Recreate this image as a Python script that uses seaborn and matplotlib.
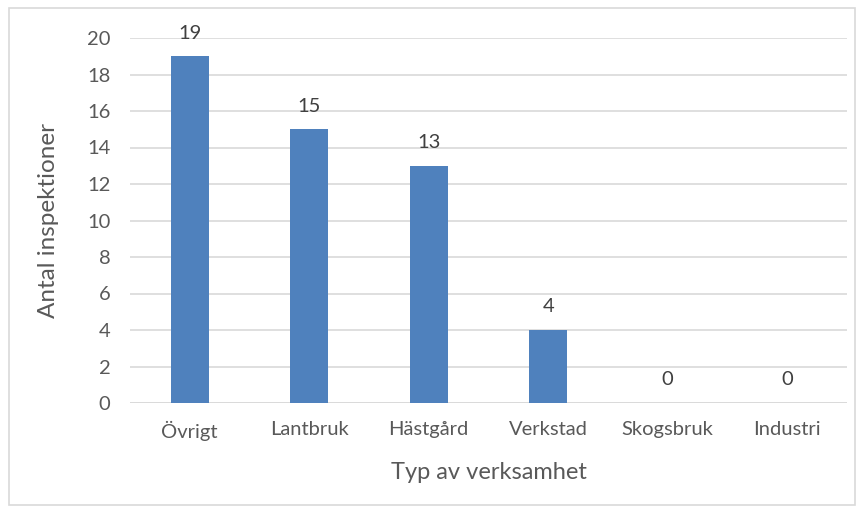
import matplotlib
matplotlib.use("Agg")
import matplotlib.pyplot as plt
import seaborn as sns
import pandas as pd
from matplotlib.patches import Rectangle

categories = ["Övrigt", "Lantbruk", "Hästgård", "Verkstad", "Skogsbruk", "Industri"]
values = [19, 15, 13, 4, 0, 0]
yticks = [0, 2, 4, 6, 8, 10, 12, 14, 16, 18, 20]

sns.set_theme(style="white")
plt.rcParams['font.family'] = ['Lato', 'DejaVu Sans']

df = pd.DataFrame({"cat": categories, "val": values})
txt = "#595959"

fig = plt.figure(figsize=(8.63, 5.13), dpi=100)
ax = fig.add_axes([130/863, 1 - 403/513, (847 - 130)/863, (403 - 38)/513])
sns.barplot(data=df, x="cat", y="val", color="#4f81bd", width=0.32, ax=ax,
            saturation=1, zorder=3, linewidth=0)
ax.set_ylim(0, 20)
ax.set_yticks(yticks)
ax.set_xlim(-0.5, len(categories) - 0.5)
ax.yaxis.grid(True, color="#d9d9d9", linewidth=1.2, zorder=0)
for s in ax.spines.values():
    s.set_visible(False)
ax.axhline(0, color="#d9d9d9", linewidth=1.2, zorder=1)
ax.tick_params(axis="both", length=0, labelsize=14.5, colors=txt)
ax.tick_params(axis="x", pad=13)
ax.tick_params(axis="y", pad=14)
for i, v in enumerate(values):
    ax.annotate(str(v), (i, v), xytext=(0, 10.5), textcoords="offset points",
                ha="center", va="bottom", fontsize=14.5, color="#404040", clip_on=False)
ax.set_xlabel("Typ av verksamhet", fontsize=17, color=txt, labelpad=15)
ax.set_ylabel("Antal inspektioner", fontsize=17.5, color=txt, labelpad=20)

fig.patches.append(Rectangle((9/863, 8/513), (855-9)/863, (505-8)/513, transform=fig.transFigure,
                             fill=False, edgecolor="#d9d9d9", linewidth=1.2))
fig.savefig("out.png", dpi=100)
